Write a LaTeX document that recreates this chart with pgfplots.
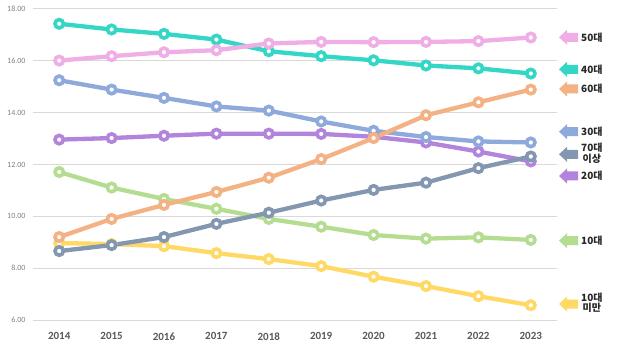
\documentclass[border=0pt]{standalone}
\usepackage{pgfplots}
\pgfplotsset{compat=1.18}
\usepackage{fontspec}
\setmainfont{Carlito}
\newfontfamily\kr{Noto Sans CJK KR}
\definecolor{cpink}{RGB}{240,174,230}
\definecolor{cteal}{RGB}{52,214,198}
\definecolor{cblue}{RGB}{142,169,219}
\definecolor{cpurple}{RGB}{178,132,219}
\definecolor{cgreen}{RGB}{181,221,145}
\definecolor{corange}{RGB}{244,177,131}
\definecolor{cgray}{RGB}{132,151,176}
\definecolor{cyellow}{RGB}{255,217,102}
\definecolor{gridgray}{RGB}{217,217,217}
\definecolor{xlab}{RGB}{89,89,89}
\definecolor{ylab}{RGB}{128,128,128}
\definecolor{labtext}{RGB}{38,38,38}
\newcommand\lab[4]{%
  \fill[#1] ([shift={(2pt,{(320-#2)*1pt})}]current axis.south east)
     -- ++(8pt,7.5pt) -- ++(0,-3pt) -- ++(11pt,0) -- ++(0,-9pt) -- ++(-11pt,0)
     -- ++(0,-3pt) -- cycle;
  \node[anchor=west, font=\kr\bfseries\fontsize{10}{10.5}\selectfont, align=center,
        inner sep=0pt, text=labtext]
        at ([shift={(24pt,{(320-#3)*1pt})}]current axis.south east) {#4};
}
\begin{document}
\begin{tikzpicture}
\begin{axis}[
  width=524pt, height=311pt, scale only axis,
  xmin=2013.5, xmax=2023.5, ymin=6, ymax=18,
  xtick={2014,...,2023}, ytick={6,8,...,18},
  xticklabel style={font=\bfseries\fontsize{11}{13}\selectfont, text=xlab, yshift=-9pt,
    /pgf/number format/.cd, 1000 sep={}, assume math mode=true},
  yticklabel style={font=\fontsize{8}{10}\selectfont, text=ylab, xshift=-4pt,
    /pgf/number format/.cd, fixed, fixed zerofill, precision=2, assume math mode=true},
  ymajorgrids, grid style={draw=gridgray, line width=1pt},
  axis line style={draw=none}, major tick length=0pt,
  clip=false,
  every axis plot/.append style={line width=4.3pt, mark=*, mark size=4.2pt,
    mark options={fill=white, line width=3.6pt}},
]
\addplot[cyellow] coordinates {(2014,8.97)(2015,8.93)(2016,8.85)(2017,8.58)(2018,8.35)(2019,8.08)(2020,7.67)(2021,7.31)(2022,6.92)(2023,6.57)};
\addplot[cgreen] coordinates {(2014,11.71)(2015,11.11)(2016,10.67)(2017,10.29)(2018,9.90)(2019,9.60)(2020,9.28)(2021,9.14)(2022,9.19)(2023,9.09)};
\addplot[cpurple] coordinates {(2014,12.96)(2015,13.02)(2016,13.11)(2017,13.19)(2018,13.19)(2019,13.18)(2020,13.07)(2021,12.85)(2022,12.50)(2023,12.12)};
\addplot[cblue] coordinates {(2014,15.25)(2015,14.89)(2016,14.57)(2017,14.24)(2018,14.08)(2019,13.66)(2020,13.30)(2021,13.06)(2022,12.89)(2023,12.85)};
\addplot[cteal] coordinates {(2014,17.43)(2015,17.21)(2016,17.04)(2017,16.82)(2018,16.37)(2019,16.18)(2020,16.02)(2021,15.82)(2022,15.71)(2023,15.51)};
\addplot[cpink] coordinates {(2014,16.01)(2015,16.18)(2016,16.33)(2017,16.41)(2018,16.67)(2019,16.73)(2020,16.72)(2021,16.73)(2022,16.76)(2023,16.90)};
\addplot[corange] coordinates {(2014,9.20)(2015,9.90)(2016,10.44)(2017,10.94)(2018,11.49)(2019,12.21)(2020,13.02)(2021,13.90)(2022,14.40)(2023,14.89)};
\addplot[cgray] coordinates {(2014,8.66)(2015,8.89)(2016,9.20)(2017,9.71)(2018,10.14)(2019,10.61)(2020,11.02)(2021,11.30)(2022,11.86)(2023,12.31)};
\end{axis}
\lab{cpink}{37.3}{37.3}{50대}
\lab{cteal}{69.3}{69.3}{40대}
\lab{corange}{89}{89}{60대}
\lab{cblue}{131.7}{131.7}{30대}
\lab{cgray}{154.3}{153.3}{70대\\이상}
\lab{cpurple}{176}{176}{20대}
\lab{cgreen}{240.7}{240.7}{10대}
\lab{cyellow}{304}{303}{10대\\미만}
\pgfresetboundingbox
\path[use as bounding box] ([shift={(-33pt,-33pt)}]current axis.south west) rectangle ++(617pt,353pt);
\end{tikzpicture}
\end{document}
